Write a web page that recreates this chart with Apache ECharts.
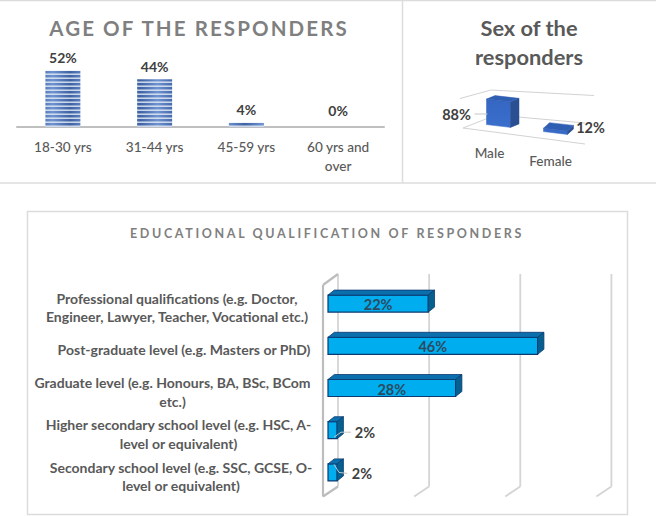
<!DOCTYPE html>
<html><head><meta charset="utf-8">
<style>
html,body{margin:0;padding:0;background:#fff}
#c{width:656px;height:516px}
svg text[style*="20.5px"]{letter-spacing:2.1px}
svg text[style*="12.5px"]{letter-spacing:2.65px}
</style>
<script src="https://cdn.jsdelivr.net/npm/echarts@6/dist/echarts.min.js"></script>
</head><body><div id="c"></div>
<script>
const ageCategories = ['18-30 yrs','31-44 yrs','45-59 yrs','60 yrs and\nover'];
const ageValues = [52,44,4,0];
const sexCategories = ['Male','Female'];
const sexValues = [88,12];
const sexLevels = [0,100];
const eduCategories = [
 'Professional qualifications (e.g. Doctor,\nEngineer, Lawyer, Teacher, Vocational etc.)',
 'Post-graduate level (e.g. Masters or PhD)',
 'Graduate level (e.g. Honours, BA, BSc, BCom\netc.)',
 'Higher secondary school level (e.g. HSC, A-\nlevel or equivalent)',
 'Secondary school level (e.g. SSC, GCSE, O-\nlevel or equivalent)'];
const eduValues = [22,46,28,2,2];
const eduTicks = [0,20,40,60];

const FONT='Lato';
const GREY='#595959', DARK='#404040', RULE='#dcdcdc';

function stripes(){
  const w=35,h=4,cv=document.createElement('canvas');cv.width=w;cv.height=h;
  const g=cv.getContext('2d');
  const gr=g.createLinearGradient(0,0,w,0);
  gr.addColorStop(0,'#3f62a3');gr.addColorStop(.5,'#6f93cf');gr.addColorStop(1,'#3f62a3');
  g.fillStyle=gr;g.fillRect(0,0,w,h);
  g.fillStyle='rgba(225,233,247,.85)';g.fillRect(0,2,w,1);
  g.fillStyle='rgba(255,255,255,.4)';g.fillRect(0,1,w,1);
  return cv;
}

const eduRich={
 p:{width:266,align:'center'},q:{width:252,align:'center'},g:{width:275,align:'center'},
 h:{width:263,align:'center'},s:{width:258,align:'center'}};
Object.values(eduRich).forEach(r=>{r.fontFamily=FONT;r.fontWeight='bold';r.fontSize=14;r.color=GREY;r.lineHeight=18.7;});
const eduKeys=['p','q','g','h','s'];

function poly(points,fill,stroke,lw){
  return {type:'polygon',shape:{points},style:{fill,stroke:stroke||fill,lineWidth:lw||.5}};
}
function line(x1,y1,x2,y2,stroke,lw){
  return {type:'line',shape:{x1,y1,x2,y2},style:{stroke,lineWidth:lw||1.2,fill:null}};
}
function txt(x,y,text,fill,size,align){
  return {type:'text',style:{x,y,text,fill,fontFamily:FONT,fontWeight:'bold',fontSize:size,align:align||'center',verticalAlign:'middle'}};
}

function sexBar(params,api){
  const i=api.value(0), top=api.coord([i,api.value(1)]), base=api.coord([i,0]);
  const h=base[1]-top[1], cx=base[0], slope=.115, w=12;
  const shift=i===0?0:7;
  const by=base[1]+shift;
  const d=i===0?[8.5,-3.5]:[6,-5.5];
  const fl=[cx-w,by-w*slope], fr=[cx+w,by+w*slope];
  const tl=[fl[0],fl[1]-h], tr=[fr[0],fr[1]-h];
  const children=[
    poly([tl,tr,fr,fl],{type:'linear',x:0,y:0,x2:0,y2:1,colorStops:[{offset:0,color:'#3566c2'},{offset:1,color:'#3a6fcc'}]},'#3566c2'),
    poly([tr,[tr[0]+d[0],tr[1]+d[1]],[fr[0]+d[0],fr[1]+d[1]],fr],'#2a4f93'),
    poly([tl,[tl[0]+d[0],tl[1]+d[1]],[tr[0]+d[0],tr[1]+d[1]],tr],'#2f5fb3')
  ];
  const label=sexValues[i]+'%';
  if(i===0){
    children.push(line(cx-24,by-12,cx-11,by-12,'#c4c4c4',1));
    children.push(txt(cx-42,by-12,label,DARK,14.5));
  }else{
    children.push(txt(cx+35,by-6,label,DARK,14.5));
  }
  return {type:'group',children};
}
function sexFloor(params,api){
  const y=api.coord([0,api.value(0)])[1], c=params.coordSys, isFloor=api.value(0)===0;
  const cx=c.x;
  if(isFloor) return {type:'group',children:[
    line(cx-7,y+2,cx+21,y-9,'#d2d2d2',1),
    line(cx+48,y-9,cx+115,y-3,'#d2d2d2',1),
    line(cx-7,y+2,cx+115,y+18,'#d2d2d2',1)]};
  return {type:'group',children:[
    line(cx-10,y+1.5,cx+21,y-7,'#d2d2d2',1),
    line(cx+21,y-7,cx+124,y-1.5,'#d2d2d2',1)]};
}
function eduWall(params,api){
  const v=api.value(0), x=api.coord([v,0])[0], c=params.coordSys;
  const T=c.y-8.5, B=c.y+c.height-7, F=B+10, col=v===0?'#bdbdbd':'#d4d4d4', lw=v===0?2.2:1.8;
  const kids=[line(x+10,T,x+10,B,'#d4d4d4',1.8),line(x+10,B,x-5,F,col,lw)];
  if(v===0){kids.push(line(x-5,T+11,x-5,F,col,lw),line(x-5,T+11,x+10,T,col,lw));}
  return {type:'group',children:kids};
}
function eduBar(params,api){
  const i=api.value(1), v=api.value(0), e=api.coord([v,i]), s=api.coord([0,i]);
  const h=17, dx=6.3, dy=-5, y0=e[1]-h/2, y1=e[1]+h/2, x0=s[0], x1=e[0];
  const edge='#0b3a70';
  const kids=[
    poly([[x0,y0],[x1,y0],[x1,y1],[x0,y1]],'#00aeef',edge,1.2),
    poly([[x0,y0],[x0+dx,y0+dy],[x1+dx,y0+dy],[x1,y0]],'#0b6fae',edge,.8),
    poly([[x1,y0],[x1+dx,y0+dy],[x1+dx,y1+dy],[x1,y1]],'#05608f',edge,.8)
  ];
  const label=v+'%';
  if(v>5){
    kids.push(txt((x0+x1)/2,e[1]+1,label,'#2c4a60',14.5));
  }else if(i===3){
    kids.push({type:'polyline',shape:{points:[[x0+6,e[1]+7],[x0+13,e[1]+2],[x0+23,e[1]+2]]},style:{stroke:'#c4c4c4',fill:null,lineWidth:1}});
    kids.push(txt(x0+37,e[1]+2,label,DARK,14.5));
  }else{
    kids.push({type:'polyline',shape:{points:[[x0+6,e[1]-8],[x0+11,e[1]],[x0+19,e[1]+1]]},style:{stroke:'#c4c4c4',fill:null,lineWidth:1}});
    kids.push(txt(x0+34,e[1]+1,label,DARK,14.5));
  }
  return {type:'group',children:kids};
}

const rule=(x1,y1,x2,y2)=>({type:'line',silent:true,shape:{x1,y1,x2,y2},style:{stroke:RULE,lineWidth:1.5}});

const chart=echarts.init(document.getElementById('c'),null,{renderer:'svg',width:656,height:516});
chart.setOption({
  animation:false,
  backgroundColor:'#fff',
  textStyle:{fontFamily:FONT},
  title:[
    {text:'AGE OF THE RESPONDERS',left:199,top:28,padding:0,textAlign:'center',textVerticalAlign:'middle',
     textStyle:{fontFamily:FONT,fontSize:20.5,fontWeight:'bold',color:'#7f7f7f'}},
    {text:'Sex of the\nresponders',left:529,top:42,padding:0,textAlign:'center',textVerticalAlign:'middle',
     textStyle:{fontFamily:FONT,fontSize:21.8,fontWeight:'bold',color:GREY,lineHeight:29}},
    {text:'EDUCATIONAL QUALIFICATION OF RESPONDERS',left:327,top:233,padding:0,textAlign:'center',textVerticalAlign:'middle',
     textStyle:{fontFamily:FONT,fontSize:12.5,fontWeight:'bold',color:'#7f7f7f'}}
  ],
  graphic:[
    rule(0,.5,656,.5),rule(0,183,656,183),rule(402.5,0,402.5,183),
    {type:'rect',silent:true,shape:{x:27.5,y:211.5,width:600,height:303},style:{fill:'none',stroke:RULE,lineWidth:1.5}}
  ],
  grid:[
    {left:17,top:62,width:367,height:65,containLabel:false},
    {left:470,top:97,width:114,height:29},
    {left:328,top:282.5,width:273.4,height:211}
  ],
  xAxis:[
    {gridIndex:0,type:'category',data:ageCategories,axisTick:{show:false},
     axisLine:{lineStyle:{color:'#bfbfbf',width:2}},
     axisLabel:{interval:0,margin:10,color:GREY,fontFamily:FONT,fontSize:13.6,fontWeight:500,lineHeight:19}},
    {gridIndex:1,type:'category',data:sexCategories,axisTick:{show:false},axisLine:{show:false},
     axisLabel:{interval:0,margin:20,formatter:(v,i)=>i===0?'{a|'+v+'}':'{b|'+v+'}',
       rich:{a:{color:GREY,fontFamily:FONT,fontSize:13.6,fontWeight:500,padding:[0,18,0,0]},
             b:{color:GREY,fontFamily:FONT,fontSize:13.6,fontWeight:500,padding:[8,10,0,0]}}}},
    {gridIndex:2,type:'value',min:0,max:60,interval:20,show:false}
  ],
  yAxis:[
    {gridIndex:0,type:'value',min:0,max:60,show:false},
    {gridIndex:1,type:'value',min:0,max:100,show:false},
    {gridIndex:2,type:'category',inverse:true,data:eduCategories,axisTick:{show:false},axisLine:{show:false},
     axisLabel:{interval:0,margin:18,align:'right',padding:[8,0,0,0],rich:eduRich,
       formatter:(v,i)=>v.split('\n').map(l=>'{'+eduKeys[i]+'|'+l+'}').join('\n')}}
  ],
  series:[
    {type:'bar',xAxisIndex:0,yAxisIndex:0,barWidth:35,
     data:ageValues.map(v=>v===0?{value:v,label:{distance:10}}:v),
     itemStyle:{color:{image:stripes(),repeat:'repeat'}},
     label:{show:true,position:'top',distance:6,formatter:p=>p.value+'%',color:DARK,fontFamily:FONT,fontWeight:'bold',fontSize:14}},
    {type:'custom',xAxisIndex:1,yAxisIndex:1,coordinateSystem:'cartesian2d',z:1,silent:true,
     data:sexLevels.map(v=>[v]),encode:{y:0},renderItem:sexFloor},
    {type:'custom',xAxisIndex:1,yAxisIndex:1,coordinateSystem:'cartesian2d',z:2,silent:true,
     data:sexValues.map((v,i)=>[i,v]),encode:{x:0,y:1},renderItem:sexBar},
    {type:'custom',xAxisIndex:2,yAxisIndex:2,coordinateSystem:'cartesian2d',z:1,silent:true,
     data:eduTicks.map(v=>[v]),encode:{x:0},renderItem:eduWall},
    {type:'custom',xAxisIndex:2,yAxisIndex:2,coordinateSystem:'cartesian2d',z:2,silent:true,
     data:eduValues.map((v,i)=>[v,i]),encode:{x:0,y:1},renderItem:eduBar}
  ]
});
</script></body></html>
